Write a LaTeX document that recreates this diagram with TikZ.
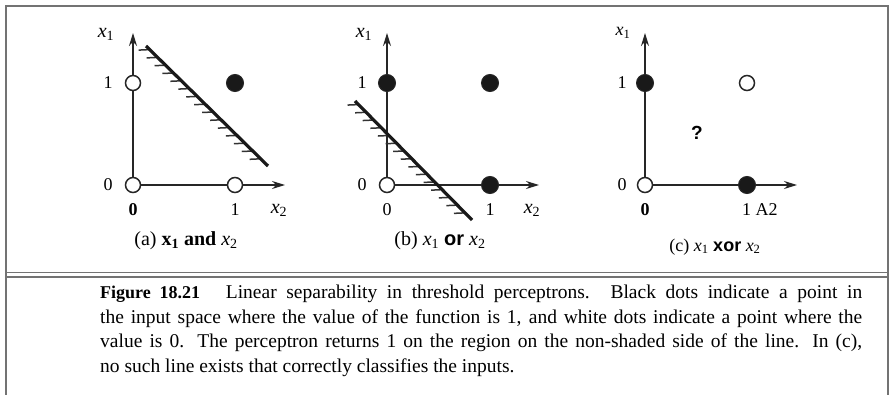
\documentclass[tikz,border=0pt]{standalone}
\usepackage{fontspec}
\setmainfont{Liberation Serif}
\setsansfont{Liberation Sans}
\usetikzlibrary{arrows.meta,calc}
\newcommand\vx[1]{{\itshape x}\textsubscript{#1}}
\tikzset{
  frameline/.style={draw=black!55,line width=1.6pt},
  axisline/.style={draw=black!85,line width=1.5pt,-{Stealth[length=13pt,width=8pt]}},
  wdot/.style={circle,draw=black!85,fill=white,line width=1.5pt,minimum size=15pt,inner sep=0pt},
  bdot/.style={circle,draw=black!85,fill=black!90,line width=1pt,minimum size=17pt,inner sep=0pt},
  sepline/.style={draw=black!90,line width=3.2pt},
  hatch/.style={draw=black!80,line width=1.5pt},
  lab/.style={font=\fontsize{18}{20}\selectfont,inner sep=0pt},
  subcap/.style={font=\fontsize{20}{22}\selectfont,inner sep=0pt},
}
\begin{document}
\begin{tikzpicture}[x=1pt,y=-1pt]
\useasboundingbox (0,0) rectangle (890,395);
\fill[white] (0,0) rectangle (890,395);
% frame
\coordinate (ftl) at (6,6);
\coordinate (ftr) at (888,6);
\coordinate (fbl) at (6,395);
\coordinate (fbr) at (888,395);
\draw[frameline] (fbl) -- (ftl) -- (ftr) -- (fbr);
\coordinate (s1l) at (6,272.5); \coordinate (s1r) at (888,272.5);
\coordinate (s2l) at (6,277); \coordinate (s2r) at (888,277);
\draw[frameline,line width=1.3pt] (s1l) -- (s1r);
\draw[frameline,line width=1.3pt] (s2l) -- (s2r);

% ---------- panel (a)
\coordinate (aO) at (133,185);
\coordinate (aY) at (133,33);
\coordinate (aX) at (285,185);
\draw[axisline] (aO) -- (aY);
\draw[axisline] (aO) -- (aX);
\coordinate (aL1) at (146,46);
\coordinate (aL2) at (268,166);
\foreach \t in {0.03,0.095,...,1.0}{
  \draw[hatch] ($(aL1)!\t!(aL2)$) -- ++(-11,0.5);
}
\draw[sepline] (aL1) -- (aL2);
\node[wdot] (a00) at (133,185) {};
\node[wdot] (a01) at (133,83) {};
\node[wdot] (a10) at (235,185) {};
\node[bdot] (a11) at (235,83) {};
\node[lab] (ax1) at (106,34) {\fontsize{20}{22}\selectfont\vx{1}};
\node[lab] (ay1) at (108,83) {1};
\node[lab] (ay0) at (108,185) {0};
\node[lab] (ax0) at (133,210) {\textbf{0}};
\node[lab] (axx1) at (235,210) {1};
\node[lab] (ax2) at (279,210) {\fontsize{20}{22}\selectfont\vx{2}};
\node[subcap] (acap) at (186,241) {(a) \textbf{x}\textsubscript{\textbf{1}} \textbf{and} \vx{2}};

% ---------- panel (b)
\coordinate (bO) at (387,185);
\coordinate (bY) at (387,33);
\coordinate (bX) at (539,185);
\draw[axisline] (bO) -- (bY);
\draw[axisline] (bO) -- (bX);
\coordinate (bL1) at (355,101);
\coordinate (bL2) at (472,220);
\foreach \t in {0.03,0.095,...,1.0}{
  \draw[hatch] ($(bL1)!\t!(bL2)$) -- ++(-11,0.5);
}
\draw[sepline] (bL1) -- (bL2);
\node[wdot] (b00) at (387,185) {};
\node[bdot] (b01) at (387,83) {};
\node[bdot] (b10) at (490,185) {};
\node[bdot] (b11) at (490,83) {};
\node[lab] (bx1) at (364,34) {\fontsize{20}{22}\selectfont\vx{1}};
\node[lab] (by1) at (362,83) {1};
\node[lab] (by0) at (362,185) {0};
\node[lab] (bx0) at (387,210) {0};
\node[lab] (bxx1) at (490,210) {1};
\node[lab] (bx2) at (532,210) {\fontsize{20}{22}\selectfont\vx{2}};
\node[subcap] (bcap) at (440,241) {(b) \vx{1} \textsf{\textbf{or}} \vx{2}};

% ---------- panel (c)
\coordinate (cO) at (645,185);
\coordinate (cY) at (645,33);
\coordinate (cX) at (797,185);
\draw[axisline] (cO) -- (cY);
\draw[axisline] (cO) -- (cX);
\node[wdot] (c00) at (645,185) {};
\node[bdot] (c01) at (645,83) {};
\node[bdot] (c10) at (747,185) {};
\node[wdot] (c11) at (747,83) {};
\node[lab] (cx1) at (623,33) {\vx{1}};
\node[lab] (cy1) at (622,83) {1};
\node[lab] (cy0) at (622,185) {0};
\node[lab] (cx0) at (645,210) {\textbf{0}};
\node[lab,anchor=west] (cxx1) at (742,210) {1 A2};
\node[lab] (cq) at (697,133) {\fontsize{19}{20}\selectfont\sffamily\bfseries ?};
\node[subcap,font=\fontsize{18}{20}\selectfont] (ccap) at (715,247) {(c) \vx{1} \textsf{\textbf{xor}} \vx{2}};

% ---------- caption
\node[anchor=north west,inner sep=0pt,text width=762pt,align=justify,
  font=\fontsize{19.5}{24.6}\selectfont] (caption) at (100,285)
{{\fontsize{18}{20}\selectfont\textbf{Figure 18.21}}\hspace{16pt} Linear separability in threshold perceptrons. Black dots indicate a point in\linebreak
the input space where the value of the function is 1, and white dots indicate a point where the\linebreak
value is 0. The perceptron returns 1 on the region on the non-shaded side of the line. In (c),\linebreak
no such line exists that correctly classifies the inputs.};
\end{tikzpicture}
\end{document}
